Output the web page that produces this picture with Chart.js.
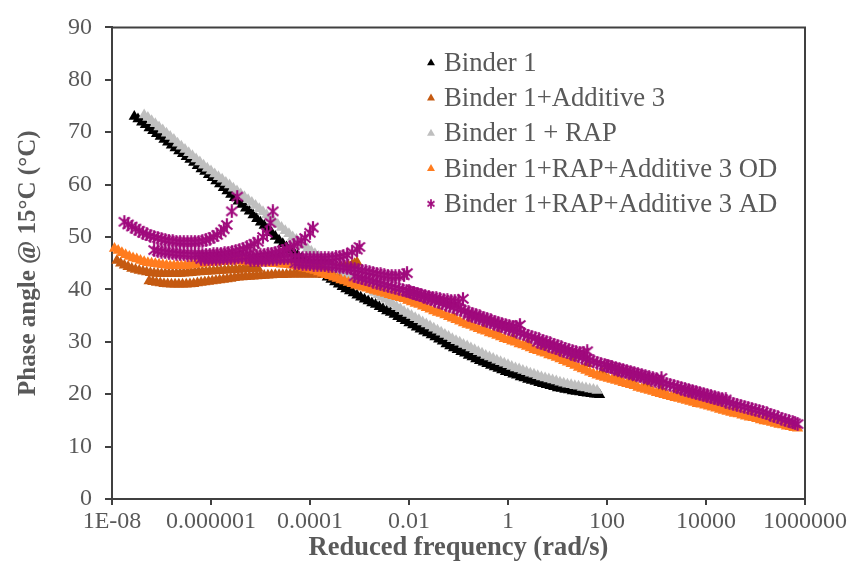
<!DOCTYPE html>
<html><head><meta charset="utf-8">
<script src="https://cdn.jsdelivr.net/npm/chart.js@4/dist/chart.umd.min.js"></script>
<style>html,body{margin:0;padding:0;background:#fff}canvas{display:block}</style>
</head><body>
<canvas id="c" width="861" height="569" style="width:861px;height:569px"></canvas>
<script>
// ---- categories / labels ----
const seriesNames = ["Binder 1", "Binder 1+Additive 3", "Binder 1 + RAP", "Binder 1+RAP+Additive 3 OD", "Binder 1+RAP+Additive 3 AD"];
const xTickValues = [1e-8, 1e-6, 1e-4, 1e-2, 1, 1e2, 1e4, 1e6];
const xTickLabels = ["1E-08", "0.000001", "0.0001", "0.01", "1", "100", "10000", "1000000"];
const yTickValues = [0, 10, 20, 30, 40, 50, 60, 70, 80, 90];

// ---- series values: [log10(reduced frequency, rad/s), phase angle (deg)] ----
const binder1 = [[-7.55,73.0],[-7.475,72.5],[-7.4,71.9],[-7.325,71.4],[-7.25,70.8],[-7.175,70.3],[-7.1,69.7],[-7.025,69.2],[-6.95,68.6],[-6.875,68.1],
[-6.8,67.5],[-6.725,67.0],[-6.65,66.4],[-6.575,65.9],[-6.5,65.3],[-6.425,64.8],[-6.35,64.2],[-6.275,63.6],[-6.2,63.0],[-6.125,62.5],
[-6.05,61.9],[-5.975,61.3],[-5.9,60.7],[-5.825,60.1],[-5.75,59.4],[-5.675,58.8],[-5.6,58.1],[-5.525,57.5],[-5.45,56.8],[-5.375,56.2],
[-5.3,55.5],[-5.225,54.9],[-5.15,54.2],[-5.075,53.5],[-5.0,52.8],[-4.925,52.2],[-4.85,51.5],[-4.775,50.8],[-4.7,50.1],[-4.625,49.4],
[-4.55,48.7],[-4.475,48.1],[-4.4,47.5],[-4.325,47.0],[-4.25,46.4],[-4.175,45.9],[-4.1,45.3],[-4.025,44.8],[-3.95,44.3],[-3.875,43.8],
[-3.8,43.3],[-3.725,42.8],[-3.65,42.3],[-3.575,41.9],[-3.5,41.4],[-3.425,41.0],[-3.35,40.5],[-3.275,40.1],[-3.2,39.7],[-3.125,39.3],
[-3.05,38.9],[-2.975,38.5],[-2.9,38.1],[-2.825,37.8],[-2.75,37.4],[-2.675,37.1],[-2.6,36.7],[-2.525,36.3],[-2.45,35.9],[-2.375,35.6],
[-2.3,35.2],[-2.225,34.8],[-2.15,34.4],[-2.075,34.0],[-2.0,33.6],[-1.925,33.2],[-1.85,32.8],[-1.775,32.4],[-1.7,32.0],[-1.625,31.7],
[-1.55,31.3],[-1.475,30.9],[-1.4,30.5],[-1.325,30.1],[-1.25,29.6],[-1.175,29.2],[-1.1,28.8],[-1.025,28.5],[-0.95,28.1],[-0.875,27.8],
[-0.8,27.4],[-0.725,27.1],[-0.65,26.7],[-0.575,26.4],[-0.5,26.1],[-0.425,25.8],[-0.35,25.5],[-0.275,25.2],[-0.2,24.9],[-0.125,24.6],
[-0.05,24.3],[0.025,24.1],[0.1,23.8],[0.175,23.6],[0.25,23.3],[0.325,23.1],[0.4,22.8],[0.475,22.6],[0.55,22.4],[0.625,22.2],
[0.7,22.0],[0.775,21.8],[0.85,21.6],[0.925,21.4],[1.0,21.2],[1.075,21.1],[1.15,20.9],[1.225,20.8],[1.3,20.6],[1.375,20.5],
[1.45,20.4],[1.525,20.3],[1.6,20.2],[1.675,20.1],[1.75,20.0],[1.8,20.0],[1.85,19.9]];

const binder1Additive3 = [[-7.9,45.5],[-7.825,45.0],[-7.75,44.6],[-7.675,44.3],[-7.6,44.0],[-7.525,43.8],[-7.45,43.6],[-7.375,43.45],[-7.3,43.3],[-7.225,43.2],
[-7.15,43.1],[-7.075,43.05],[-7.0,43.0],[-6.925,43.0],[-6.85,43.0],[-6.775,43.0],[-6.7,43.0],[-6.625,43.05],[-6.55,43.1],[-6.475,43.15],
[-6.4,43.2],[-6.325,43.25],[-6.25,43.3],[-6.175,43.35],[-6.1,43.4],[-6.025,43.45],[-5.95,43.5],[-5.875,43.55],[-5.8,43.6],[-5.725,43.65],
[-5.65,43.7],[-5.575,43.75],[-5.5,43.8],[-5.425,43.85],[-5.35,43.9],[-5.275,43.95],[-5.2,44.0],[-5.125,44.0],[-5.05,44.0],
[-7.25,41.6],[-7.175,41.45],[-7.1,41.3],[-7.025,41.2],[-6.95,41.1],[-6.875,41.05],[-6.8,41.0],[-6.725,41.0],[-6.65,41.0],[-6.575,41.0],
[-6.5,41.0],[-6.425,41.05],[-6.35,41.1],[-6.275,41.2],[-6.2,41.3],[-6.125,41.4],[-6.05,41.5],[-5.975,41.6],[-5.9,41.7],[-5.825,41.8],
[-5.75,41.9],[-5.675,42.0],[-5.6,42.1],[-5.525,42.2],[-5.45,42.3],[-5.375,42.35],[-5.3,42.4],[-5.225,42.45],[-5.15,42.5],[-5.075,42.55],
[-5.0,42.6],[-4.925,42.65],[-4.85,42.7],[-4.775,42.75],[-4.7,42.8],[-4.625,42.8],[-4.55,42.8],[-4.475,42.85],[-4.4,42.9],[-4.325,42.9],
[-4.25,42.9],[-4.175,42.9],[-4.1,42.9],[-4.025,42.9],[-3.95,42.9],[-3.875,42.9],[-3.8,42.9],[-3.725,42.85],[-3.65,42.8],[-3.575,42.7],
[-3.5,42.6],[-3.425,42.45],[-3.35,42.3],
[-4.2,44.0],[-4.125,44.0],[-4.05,44.0],[-3.975,44.0],[-3.9,44.0],[-3.825,44.0],[-3.75,44.0],[-3.675,44.05],[-3.6,44.1],[-3.525,44.15],
[-3.45,44.2],[-3.375,44.3],[-3.3,44.4],[-3.225,44.55],[-3.15,44.7],[-3.1,44.9],[-3.05,45.2],
[-2.9,40.8],[-2.6,39.9],[-2.3,39.0],[-2.0,38.0],[-1.7,37.0],[-1.4,35.8],[-1.1,34.7],[-0.8,33.7],[-0.5,32.7],[-0.2,31.7],
[0.1,30.8],[0.4,29.8],[0.7,28.9],[1.0,27.9],[1.3,26.9],[1.6,25.8],[1.9,24.3],[2.2,23.5],[2.5,22.7],[2.8,21.9],
[3.1,21.0],[3.4,20.2],[3.7,19.4],[4.0,18.6],[4.3,17.8],[4.6,17.0],[4.9,16.2],[5.2,15.3],[5.5,14.5],[5.8,13.9]];

const binder1Rap = [[-7.35,73.3],[-7.275,72.8],[-7.2,72.2],[-7.125,71.6],[-7.05,71.0],[-6.975,70.4],[-6.9,69.8],[-6.825,69.2],[-6.75,68.6],[-6.675,67.9],
[-6.6,67.3],[-6.525,66.7],[-6.45,66.1],[-6.375,65.5],[-6.3,64.9],[-6.225,64.3],[-6.15,63.7],[-6.075,63.1],[-6.0,62.6],[-5.925,62.0],
[-5.85,61.5],[-5.775,61.0],[-5.7,60.4],[-5.625,59.9],[-5.55,59.3],[-5.475,58.8],[-5.4,58.2],[-5.325,57.7],[-5.25,57.1],[-5.175,56.6],
[-5.1,56.0],[-5.025,55.4],[-4.95,54.8],[-4.875,54.2],[-4.8,53.6],[-4.725,53.0],[-4.65,52.4],[-4.575,51.8],[-4.5,51.2],[-4.425,50.6],
[-4.35,50.0],[-4.275,49.5],[-4.2,48.9],[-4.125,48.4],[-4.05,47.8],[-3.975,47.3],[-3.9,46.8],[-3.825,46.3],[-3.75,45.8],[-3.675,45.3],
[-3.6,44.8],[-3.525,44.4],[-3.45,43.9],[-3.375,43.5],[-3.3,43.0],[-3.225,42.6],[-3.15,42.1],[-3.075,41.7],[-3.0,41.2],[-2.925,40.8],
[-2.85,40.3],[-2.775,39.9],[-2.7,39.4],[-2.625,39.0],[-2.55,38.5],[-2.475,38.1],[-2.4,37.6],[-2.325,37.2],[-2.25,36.7],[-2.175,36.3],
[-2.1,35.8],[-2.025,35.4],[-1.95,35.0],[-1.875,34.6],[-1.8,34.2],[-1.725,33.8],[-1.65,33.4],[-1.575,33.0],[-1.5,32.6],[-1.425,32.2],
[-1.35,31.8],[-1.275,31.4],[-1.2,31.0],[-1.125,30.6],[-1.05,30.2],[-0.975,29.9],[-0.9,29.5],[-0.825,29.2],[-0.75,28.8],[-0.675,28.5],
[-0.6,28.1],[-0.525,27.8],[-0.45,27.4],[-0.375,27.1],[-0.3,26.8],[-0.225,26.5],[-0.15,26.2],[-0.075,25.9],[0.0,25.6],[0.075,25.3],
[0.15,25.0],[0.225,24.8],[0.3,24.5],[0.375,24.3],[0.45,24.0],[0.525,23.8],[0.6,23.5],[0.675,23.3],[0.75,23.1],[0.825,22.9],
[0.9,22.7],[0.975,22.5],[1.05,22.3],[1.125,22.1],[1.2,21.9],[1.275,21.8],[1.35,21.6],[1.425,21.5],[1.5,21.3],[1.575,21.2],
[1.65,21.0],[1.725,20.9],[1.8,20.7]];

const rapAdditive3OD = [[-7.95,47.8],[-7.875,47.4],[-7.8,47.0],[-7.725,46.6],[-7.65,46.3],[-7.575,46.0],[-7.5,45.8],[-7.425,45.5],[-7.35,45.3],[-7.275,45.1],
[-7.2,45.0],[-7.125,44.9],[-7.05,44.8],[-6.975,44.7],[-6.9,44.6],[-6.825,44.5],[-6.75,44.5],[-6.675,44.5],[-6.6,44.5],[-6.525,44.5],
[-6.45,44.6],[-6.375,44.7],[-6.3,44.8],[-6.225,44.9],[-6.15,45.0],[-6.075,45.1],[-6.0,45.2],[-5.925,45.2],[-5.85,45.3],[-5.775,45.3],
[-5.7,45.4],[-5.625,45.4],[-5.55,45.4],[-5.475,45.4],[-5.4,45.4],[-5.325,45.3],[-5.25,45.3],[-5.175,45.2],[-5.1,45.2],[-5.025,45.1],
[-4.95,45.1],[-4.875,45.0],[-4.8,45.0],[-4.725,44.9],[-4.65,44.9],[-4.575,44.8],[-4.5,44.8],[-4.425,44.7],[-4.35,44.6],[-4.275,44.4],
[-4.2,44.3],[-4.125,44.1],[-4.05,44.0],[-3.975,43.8],[-3.9,43.6],[-3.825,43.3],[-3.75,43.1],[-3.675,42.8],[-3.6,42.6],[-3.525,42.3],
[-3.45,42.1],[-3.375,41.8],[-3.3,41.6],[-3.225,41.3],[-3.15,41.1],[-3.075,40.8],[-3.0,40.6],[-2.925,40.4],[-2.85,40.2],[-2.775,40.0],
[-2.7,39.8],[-2.625,39.6],[-2.55,39.4],[-2.475,39.2],[-2.4,39.0],[-2.325,38.8],[-2.25,38.6],[-2.175,38.4],[-2.1,38.2],[-2.025,37.9],
[-1.95,37.6],[-1.875,37.3],[-1.8,37.1],[-1.725,36.8],[-1.65,36.5],[-1.575,36.2],[-1.5,35.9],[-1.425,35.6],[-1.35,35.4],[-1.275,35.1],
[-1.2,34.8],[-1.125,34.5],[-1.05,34.2],[-0.975,33.9],[-0.9,33.6],[-0.825,33.3],[-0.75,33.1],[-0.675,32.8],[-0.6,32.5],[-0.525,32.2],
[-0.45,32.0],[-0.375,31.7],[-0.3,31.5],[-0.225,31.2],[-0.15,30.9],[-0.075,30.6],[0.0,30.4],[0.075,30.1],[0.15,29.9],[0.225,29.6],
[0.3,29.4],[0.375,29.1],[0.45,28.8],[0.525,28.5],[0.6,28.3],[0.675,28.0],[0.75,27.8],[0.825,27.5],[0.9,27.3],[0.975,27.0],
[1.05,26.7],[1.125,26.4],[1.2,26.1],[1.275,25.8],[1.35,25.5],[1.425,25.1],[1.5,24.8],[1.575,24.5],[1.65,24.2],[1.725,23.9],
[1.8,23.6],[1.875,23.4],[1.95,23.2],[2.025,23.0],[2.1,22.8],[2.175,22.6],[2.25,22.4],[2.325,22.2],[2.4,22.0],[2.475,21.8],
[2.55,21.6],[2.625,21.3],[2.7,21.1],[2.775,20.9],[2.85,20.7],[2.925,20.5],[3.0,20.3],[3.075,20.1],[3.15,19.9],[3.225,19.7],
[3.3,19.5],[3.375,19.3],[3.45,19.2],[3.525,19.0],[3.6,18.8],[3.675,18.6],[3.75,18.4],[3.825,18.2],[3.9,18.1],[3.975,17.9],
[4.05,17.7],[4.125,17.5],[4.2,17.3],[4.275,17.1],[4.35,16.9],[4.425,16.7],[4.5,16.5],[4.575,16.3],[4.65,16.2],[4.725,16.0],
[4.8,15.8],[4.875,15.6],[4.95,15.5],[5.025,15.3],[5.1,15.1],[5.175,14.9],[5.25,14.8],[5.325,14.6],[5.4,14.4],[5.475,14.2],
[5.55,14.1],[5.625,13.9],[5.7,13.8],[5.775,13.6],[5.85,13.5]];

const rapAdditive3AD = [[-7.75,52.9],[-7.675,52.4],[-7.6,52.0],[-7.525,51.6],[-7.45,51.2],[-7.375,50.8],[-7.3,50.5],[-7.225,50.2],[-7.15,50.0],[-7.075,49.8],
[-7.0,49.6],[-6.925,49.4],[-6.85,49.3],[-6.775,49.2],[-6.7,49.1],[-6.625,49.0],[-6.55,49.0],[-6.475,49.0],[-6.4,49.0],[-6.325,49.0],
[-6.25,49.1],[-6.175,49.2],[-6.1,49.4],[-6.025,49.7],[-5.95,50.0],[-5.875,50.4],[-5.8,50.9],[-5.74,51.5],[-5.68,52.3],[-5.58,54.9],[-5.47,57.7],
[-7.15,47.5],[-7.075,47.35],[-7.0,47.2],[-6.925,47.1],[-6.85,47.0],[-6.775,46.9],[-6.7,46.8],[-6.625,46.75],[-6.55,46.7],[-6.475,46.65],
[-6.4,46.6],[-6.325,46.6],[-6.25,46.6],[-6.175,46.6],[-6.1,46.6],[-6.025,46.65],[-5.95,46.7],[-5.875,46.75],[-5.8,46.8],[-5.725,46.9],
[-5.65,47.0],[-5.575,47.15],[-5.5,47.3],[-5.425,47.5],[-5.35,47.7],[-5.275,48.0],[-5.2,48.3],[-5.125,48.7],[-5.05,49.1],[-4.95,50.0],
[-4.87,50.8],[-4.8,52.7],[-4.75,54.9],
[-6.2,45.8],[-6.125,45.8],[-6.05,45.8],[-5.975,45.8],[-5.9,45.8],[-5.825,45.85],[-5.75,45.9],[-5.675,45.95],[-5.6,46.0],[-5.525,46.05],
[-5.45,46.1],[-5.375,46.15],[-5.3,46.2],[-5.225,46.25],[-5.15,46.3],[-5.075,46.4],[-5.0,46.5],[-4.925,46.6],[-4.85,46.7],[-4.775,46.85],
[-4.7,47.0],[-4.625,47.2],[-4.55,47.4],[-4.475,47.7],[-4.4,48.0],[-4.325,48.4],[-4.25,48.8],[-4.175,49.3],[-4.1,49.8],[-4.0,50.8],[-3.94,51.8],
[-5.2,45.6],[-5.125,45.6],[-5.05,45.6],[-4.975,45.65],[-4.9,45.7],[-4.825,45.75],[-4.75,45.8],[-4.675,45.85],[-4.6,45.9],[-4.525,45.95],
[-4.45,46.0],[-4.375,46.0],[-4.3,46.0],[-4.225,46.0],[-4.15,46.0],[-4.075,45.95],[-4.0,45.9],[-3.925,45.9],[-3.85,45.9],[-3.775,45.9],
[-3.7,45.9],[-3.625,45.95],[-3.55,46.0],[-3.475,46.1],[-3.4,46.2],[-3.325,46.4],[-3.25,46.6],[-3.15,47.1],[-3.05,47.6],[-3.0,48.1],
[-4.3,45.0],[-4.225,44.95],[-4.15,44.9],[-4.075,44.85],[-4.0,44.8],[-3.925,44.75],[-3.85,44.7],[-3.775,44.65],[-3.7,44.6],[-3.625,44.55],
[-3.55,44.5],[-3.475,44.4],[-3.4,44.3],[-3.325,44.2],[-3.25,44.1],[-3.175,44.0],[-3.1,43.9],[-3.025,43.75],[-2.95,43.6],[-2.875,43.45],
[-2.8,43.3],[-2.725,43.15],[-2.65,43.0],[-2.575,42.85],[-2.5,42.7],[-2.425,42.6],[-2.35,42.5],[-2.275,42.5],[-2.2,42.5],[-2.1,42.7],[-2.04,43.1],
[-3.1,42.5],[-3.025,42.3],[-2.95,42.1],[-2.875,41.9],[-2.8,41.7],[-2.725,41.5],[-2.65,41.3],[-2.575,41.1],[-2.5,40.9],[-2.425,40.7],
[-2.35,40.5],[-2.275,40.3],[-2.2,40.1],[-2.125,39.9],[-2.05,39.7],[-1.975,39.5],[-1.9,39.3],[-1.825,39.1],[-1.75,38.9],[-1.675,38.75],
[-1.6,38.6],[-1.525,38.45],[-1.45,38.3],[-1.375,38.15],[-1.3,38.0],[-1.225,37.9],[-1.15,37.8],[-1.075,37.75],[-1.0,37.7],[-0.91,38.2],
[-2.0,39.6],[-1.925,39.35],[-1.85,39.1],[-1.775,38.85],[-1.7,38.6],[-1.625,38.35],[-1.55,38.1],[-1.475,37.85],[-1.4,37.6],[-1.325,37.35],
[-1.25,37.1],[-1.175,36.85],[-1.1,36.6],[-1.025,36.35],[-0.95,36.1],[-0.875,35.85],[-0.8,35.6],[-0.725,35.35],[-0.65,35.1],[-0.575,34.85],
[-0.5,34.6],[-0.425,34.35],[-0.35,34.1],[-0.275,33.85],[-0.2,33.6],[-0.125,33.4],[-0.05,33.2],[0.025,33.05],[0.1,32.9],[0.17,32.9],[0.24,33.2],
[-0.8,35.2],[-0.725,34.95],[-0.65,34.7],[-0.575,34.45],[-0.5,34.2],[-0.425,33.95],[-0.35,33.7],[-0.275,33.45],[-0.2,33.2],[-0.125,32.95],
[-0.05,32.7],[0.025,32.45],[0.1,32.2],[0.175,31.95],[0.25,31.7],[0.325,31.45],[0.4,31.2],[0.475,30.95],[0.55,30.7],[0.625,30.45],
[0.7,30.2],[0.775,29.95],[0.85,29.7],[0.925,29.45],[1.0,29.2],[1.075,28.95],[1.15,28.7],[1.225,28.45],[1.3,28.2],[1.375,28.05],[1.45,27.9],[1.53,27.9],[1.6,28.2],
[0.6,30.0],[0.675,29.75],[0.75,29.5],[0.825,29.25],[0.9,29.0],[0.975,28.75],[1.05,28.5],[1.125,28.25],[1.2,28.0],[1.275,27.75],
[1.35,27.5],[1.425,27.25],[1.5,27.0],[1.575,26.75],[1.65,26.5],[1.725,26.25],[1.8,26.0],[1.875,25.8],[1.95,25.6],[2.025,25.4],
[2.1,25.2],[2.175,25.0],[2.25,24.8],[2.325,24.6],[2.4,24.4],[2.475,24.2],[2.55,24.0],[2.625,23.8],[2.7,23.6],[2.775,23.4],
[2.85,23.2],[2.925,23.05],[3.0,22.9],[3.1,23.1],
[2.0,25.3],[2.075,25.1],[2.15,24.9],[2.225,24.65],[2.3,24.4],[2.375,24.2],[2.45,24.0],[2.525,23.8],[2.6,23.6],[2.675,23.4],
[2.75,23.2],[2.825,23.0],[2.9,22.8],[2.975,22.6],[3.05,22.4],[3.125,22.2],[3.2,22.0],[3.275,21.8],[3.35,21.6],[3.425,21.4],
[3.5,21.2],[3.575,21.0],[3.65,20.8],[3.725,20.6],[3.8,20.4],[3.875,20.2],[3.95,20.0],[4.025,19.8],[4.1,19.6],[4.175,19.4],
[4.25,19.2],[4.325,19.1],[4.4,19.0],
[3.5,21.0],[3.575,20.8],[3.65,20.6],[3.725,20.4],[3.8,20.2],[3.875,20.0],[3.95,19.8],[4.025,19.6],[4.1,19.4],[4.175,19.2],
[4.25,19.0],[4.325,18.8],[4.4,18.6],[4.475,18.4],[4.55,18.2],[4.625,18.0],[4.7,17.8],[4.775,17.6],[4.85,17.4],[4.925,17.2],
[5.0,17.0],[5.075,16.8],[5.15,16.6],[5.225,16.35],[5.3,16.1],[5.375,15.85],[5.45,15.6],[5.525,15.35],[5.6,15.1],[5.675,14.85],
[5.75,14.6],[5.8,14.45],[5.85,14.3]];

// ---- styles ----
const FONT = "'Liberation Serif', 'Times New Roman', serif";
const TEXT = "#595959";
const AXIS = "#404040";
const colors = ["#000000", "#C55A11", "#BFBFBF", "#FF7C1F", "#A00A7D"];

function toPoints(pairs) { return pairs.map(p => ({ x: Math.pow(10, p[0]), y: p[1] })); }

function starMarker(color, size, lw) {
  const c = document.createElement('canvas');
  c.width = size; c.height = size;
  const g = c.getContext('2d');
  g.strokeStyle = color; g.lineWidth = lw; g.lineCap = 'butt';
  const s = size, m = 1.5;
  g.beginPath();
  g.moveTo(m, m + 1); g.lineTo(s - m, s - m - 1);
  g.moveTo(s - m, m + 1); g.lineTo(m, s - m - 1);
  g.moveTo(s / 2, 0.3); g.lineTo(s / 2, s - 0.3);
  g.stroke();
  return c;
}
const starPlot = starMarker(colors[4], 14, 2.2);
const starLegend = starMarker(colors[4], 10, 1.7);

const seriesData = [binder1, binder1Additive3, binder1Rap, rapAdditive3OD, rapAdditive3AD].map(toPoints);

const datasets = seriesData.map((d, i) => ({
  label: seriesNames[i],
  data: d,
  showLine: false,
  pointStyle: i === 4 ? starPlot : 'triangle',
  pointRadius: 6.5,
  pointHoverRadius: 6.5,
  backgroundColor: colors[i],
  borderColor: colors[i],
  borderWidth: 0,
  order: 5 - i,
  clip: false
}));

const framePlugin = {
  id: 'frame',
  afterDraw(chart) {
    const { ctx, chartArea: a } = chart;
    ctx.save();
    ctx.strokeStyle = AXIS; ctx.lineWidth = 2;
    ctx.beginPath();
    ctx.moveTo(a.left - 1, a.top); ctx.lineTo(a.right, a.top); ctx.lineTo(a.right, a.bottom);
    ctx.stroke();
    // legend
    const lx = 431, tx = 444, y0 = 63, dy = 35.2;
    ctx.font = "26.7px " + FONT;
    ctx.textBaseline = 'middle';
    ctx.textAlign = 'left';
    seriesNames.forEach((name, i) => {
      const y = y0 + i * dy;
      if (i === 4) {
        ctx.drawImage(starLegend, lx - 5, y - 5);
      } else {
        const r = 4.6;
        ctx.fillStyle = colors[i];
        ctx.beginPath();
        ctx.moveTo(lx, y - r);
        ctx.lineTo(lx + r * 0.866, y + r / 2);
        ctx.lineTo(lx - r * 0.866, y + r / 2);
        ctx.closePath(); ctx.fill();
      }
      ctx.fillStyle = TEXT;
      ctx.fillText(name, tx, y + 1);
    });
    ctx.restore();
  }
};

new Chart(document.getElementById('c'), {
  type: 'scatter',
  data: { datasets },
  options: {
    responsive: false,
    animation: false,
    devicePixelRatio: 1,
    layout: { padding: { top: 14, right: 56, left: 0, bottom: 0 } },
    plugins: { legend: { display: false }, tooltip: { enabled: false } },
    scales: {
      x: {
        type: 'logarithmic',
        min: 1e-8, max: 1e6,
        afterBuildTicks: (s) => { s.ticks = xTickValues.map(v => ({ value: v })); },
        afterFit: (s) => { s.height = 70; },
        ticks: {
          autoSkip: false, maxRotation: 0, minRotation: 0, padding: 2,
          color: TEXT, font: { family: FONT, size: 24 },
          callback: (v, i) => xTickLabels[i]
        },
        grid: { display: true, drawOnChartArea: false, drawTicks: true, tickLength: 6, color: AXIS, lineWidth: 2 },
        border: { display: true, color: AXIS, width: 2 },
        title: { display: true, text: "Reduced frequency (rad/s)", color: TEXT, font: { family: FONT, size: 26.5, weight: 'bold' }, padding: { top: 0, bottom: 5 } }
      },
      y: {
        type: 'linear',
        min: 0, max: 90,
        afterBuildTicks: (s) => { s.ticks = yTickValues.map(v => ({ value: v })); },
        afterFit: (s) => { s.width = 112; },
        ticks: { stepSize: 10, padding: 13, color: TEXT, font: { family: FONT, size: 24 } },
        grid: { display: true, drawOnChartArea: false, drawTicks: true, tickLength: 7, color: AXIS, lineWidth: 2 },
        border: { display: true, color: AXIS, width: 2 },
        title: { display: true, text: "Phase angle @ 15°C (°C)", color: TEXT, font: { family: FONT, size: 25, weight: 'bold' }, padding: { top: 14, bottom: 0 } }
      }
    }
  },
  plugins: [framePlugin]
});
</script>
</body></html>
